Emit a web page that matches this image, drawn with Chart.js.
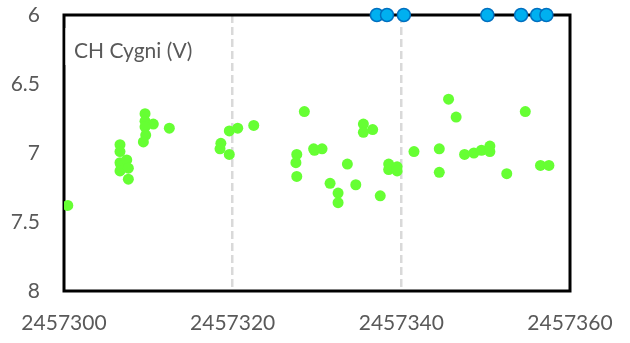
<!DOCTYPE html>
<html>
<head>
<meta charset="utf-8">
<script src="https://cdn.jsdelivr.net/npm/chart.js@4.4.1/dist/chart.umd.min.js"></script>
<style>
  html, body { margin: 0; padding: 0; background: #fff; }
  #wrap { width: 630px; height: 343px; }
</style>
</head>
<body>
<div id="wrap"><canvas id="lightCurve" width="630" height="343"></canvas></div>
<script>
// CH Cygni V-band magnitudes (JD offset from 2457300)
const JD0 = 2457300;
const greenDay = [
  0.45,
  6.64, 6.64, 6.64, 6.76, 6.64, 7.44, 7.63, 7.63,
  9.61, 9.61, 10.59, 9.61, 9.69, 9.41, 12.49,
  18.6, 18.5, 19.6, 19.6, 20.6, 22.5,
  27.6, 27.5, 27.6, 28.5, 29.6, 29.7, 30.6, 31.55, 32.5, 32.5, 33.6, 34.6,
  35.5, 35.5, 36.6, 37.5, 38.5, 38.5, 39.5, 39.5, 41.5,
  44.5, 44.5, 45.6, 46.5, 47.5, 48.6, 49.5, 50.5, 50.5, 52.5, 54.7, 56.5, 57.5
];
const greenMag = [
  7.38,
  6.94, 6.99, 7.07, 7.09, 7.13, 7.05, 7.11, 7.19,
  6.715, 6.77, 6.79, 6.81, 6.87, 6.92, 6.82,
  6.93, 6.97, 7.01, 6.84, 6.82, 6.80,
  7.01, 7.07, 7.17, 6.70, 6.97, 6.98, 6.97, 7.22, 7.29, 7.36, 7.08, 7.23,
  6.79, 6.85, 6.83, 7.31, 7.08, 7.12, 7.10, 7.13, 6.99,
  6.97, 7.14, 6.61, 6.74, 7.01, 7.00, 6.98, 6.95, 6.99, 7.15, 6.70, 7.09, 7.09
];
const blueDay = [37.1, 38.3, 40.3, 50.2, 54.2, 56.1, 57.2];
const blueMag = [6, 6, 6, 6, 6, 6, 6];

const xTicks = [2457300, 2457320, 2457340, 2457360];
const yTicks = [6, 6.5, 7, 7.5, 8];
const starLabel = 'CH Cygni (V)';

const toPoints = (days, mags) => days.map((d, i) => ({ x: JD0 + d, y: mags[i] }));

const FONT = 'Lato, "Open Sans", sans-serif';
const GREY = '#595959';

// black frame around the plot and the star name box
const framePlugin = {
  id: 'frame',
  beforeDatasetsDraw(chart) {
    const { ctx, chartArea: a } = chart;
    ctx.save();
    ctx.strokeStyle = '#000';
    ctx.lineWidth = 3;
    ctx.strokeRect(a.left, a.top, a.right - a.left, a.bottom - a.top);

    ctx.fillStyle = '#fff';
    ctx.fillRect(a.left + 1.5, a.top + 13, 136, 37);
    ctx.fillStyle = GREY;
    ctx.font = '21px ' + FONT;
    ctx.textBaseline = 'alphabetic';
    ctx.fillText(starLabel, a.left + 10, a.top + 43);
    ctx.restore();
  }
};

new Chart(document.getElementById('lightCurve'), {
  type: 'scatter',
  data: {
    datasets: [
      {
        data: toPoints(greenDay, greenMag),
        backgroundColor: '#66FF33',
        borderColor: '#66FF33',
        borderWidth: 0,
        pointRadius: 5.5,
        pointHoverRadius: 5.5
      },
      {
        data: toPoints(blueDay, blueMag),
        backgroundColor: '#00B0F0',
        borderColor: '#0070C0',
        borderWidth: 1.5,
        pointRadius: 6.5,
        pointHoverRadius: 6.5,
        clip: false
      }
    ]
  },
  options: {
    responsive: false,
    animation: false,
    layout: { padding: { top: 15, right: 60, left: 0, bottom: 0 } },
    plugins: {
      legend: { display: false },
      tooltip: { enabled: false }
    },
    scales: {
      x: {
        type: 'linear',
        min: 2457300,
        max: 2457360,
        afterBuildTicks(scale) {
          scale.ticks = xTicks.map(v => ({ value: v }));
        },
        afterFit(scale) {
          scale.height = 52;
          scale.paddingLeft = 0;
          scale.paddingRight = 0;
        },
        ticks: {
          color: GREY,
          font: { family: FONT, size: 21 },
          padding: 20,
          maxRotation: 0,
          autoSkip: false,
          callback: v => String(v)
        },
        border: { display: false, dash: [8, 4] },
        grid: {
          drawTicks: false,
          lineWidth: 2.5,
          color: c => (c.tick && (c.tick.value === 2457320 || c.tick.value === 2457340)) ? '#D9D9D9' : 'rgba(0,0,0,0)'
        }
      },
      y: {
        type: 'linear',
        reverse: true,
        min: 6,
        max: 8,
        afterBuildTicks(scale) {
          scale.ticks = yTicks.map(v => ({ value: v }));
        },
        afterFit(scale) {
          scale.width = 64;
          scale.paddingTop = 0;
          scale.paddingBottom = 0;
        },
        ticks: {
          color: GREY,
          font: { family: FONT, size: 21 },
          padding: 24,
          callback: v => String(v)
        },
        border: { display: false },
        grid: { display: false, drawTicks: false }
      }
    }
  },
  plugins: [framePlugin]
});
</script>
</body>
</html>
